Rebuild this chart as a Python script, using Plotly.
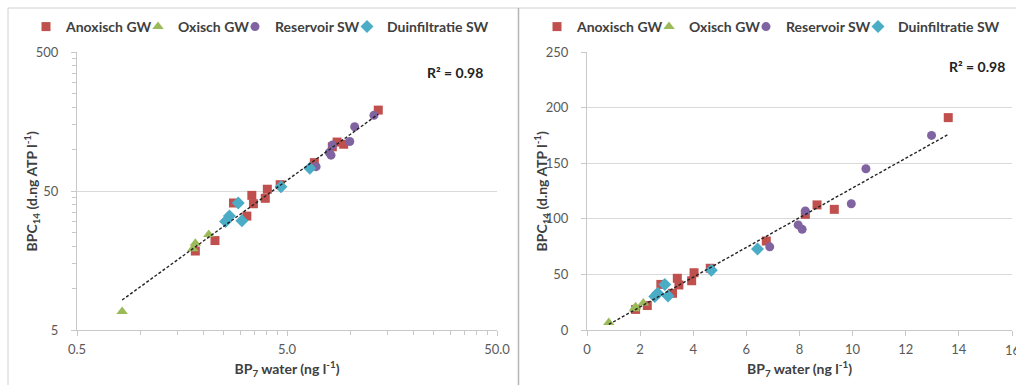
import numpy as np
import plotly.graph_objects as go

# Measured series: BP7 in water (ng/l) vs BPC14 (d.ng ATP/l)
anox_x = [13.6, 8.66, 9.31, 8.22, 6.75, 4.64, 4.03, 3.94, 3.40, 3.46, 2.78, 3.22, 2.27, 1.83]
anox_y = [191, 112.5, 108.5, 104, 80, 55.5, 51.5, 44.3, 46.5, 40.5, 41, 33, 22, 18.5]
oxi_x = [0.82, 1.78, 1.83, 2.12]
oxi_y = [6.8, 19.2, 21, 24.3]
res_x = [12.97, 10.5, 9.95, 8.22, 7.95, 8.1, 6.88]
res_y = [175, 145, 113.5, 107, 94.5, 90.5, 74.8]
duin_x = [6.42, 4.68, 2.93, 3.05, 2.55, 2.66]
duin_y = [72.8, 53.7, 41, 30.5, 30.2, 33]

series_names = ["Anoxisch GW", "Oxisch GW", "Reservoir SW", "Duinfiltratie SW"]
r2_label = "R² = 0.98"

log_xticks = [0.5, 5, 50]
log_xticktext = ["0.5", "5.0", "50.0"]
log_yticks = [5, 50, 500]
lin_xticks = [0, 2, 4, 6, 8, 10, 12, 14, 16]
lin_yticks = [0, 50, 100, 150, 200, 250]

W, H = 1016, 385
def px(x):
    return x / W
def py(y):
    return 1 - y / H

styles = [
    dict(symbol="square", color="#C0504D", size=9),
    dict(symbol="triangle-up", color="#9BBB59", size=10),
    dict(symbol="circle", color="#8064A2", size=9),
    dict(symbol="diamond", color="#4BACC6", size=10),
]
data = [(anox_x, anox_y), (oxi_x, oxi_y), (res_x, res_y), (duin_x, duin_y)]

# left edge of each legend entry's label, per panel
legend_text_left = [59, 171, 268, 380]
panel_offsets = [0, 511]

fig = go.Figure()
legend_layout = {}
leg_font = dict(family="Lato, Open Sans, sans-serif", size=14, color="#404040", weight="bold")

for p, (xa, ya) in enumerate([("x", "y"), ("x2", "y2")]):
    for k, ((xs, ys), name, st) in enumerate(zip(data, series_names, styles)):
        idx = p * 4 + k + 1
        lname = "legend" if idx == 1 else f"legend{idx}"
        fig.add_trace(go.Scatter(
            x=xs, y=ys, mode="markers", name=name,
            marker=dict(symbol=st["symbol"], color=st["color"], size=st["size"], line=dict(width=0)),
            xaxis=xa, yaxis=ya, legend=lname, showlegend=True,
        ))
        legend_layout[lname] = dict(
            orientation="h", x=px(legend_text_left[k] + panel_offsets[p] - 33), y=py(27),
            xanchor="left", yanchor="middle", font=leg_font, bgcolor="rgba(0,0,0,0)",
            itemwidth=30,
        )

# trend lines fitted on all points
all_x = np.array(anox_x + oxi_x + res_x + duin_x, dtype=float)
all_y = np.array(anox_y + oxi_y + res_y + duin_y, dtype=float)
xx = np.linspace(all_x.min(), all_x.max(), 60)

b, a = np.polyfit(np.log10(all_x), np.log10(all_y), 1)
fig.add_trace(go.Scatter(x=xx, y=10 ** a * xx ** b, mode="lines", xaxis="x", yaxis="y",
                         line=dict(color="#222222", width=1.4, dash="3px,2px"),
                         showlegend=False, hoverinfo="skip"))
m, c = np.polyfit(all_x, all_y, 1)
xl = np.array([all_x.min(), all_x.max()])
fig.add_trace(go.Scatter(x=xl, y=m * xl + c, mode="lines", xaxis="x2", yaxis="y2",
                         line=dict(color="#222222", width=1.4, dash="3px,2px"),
                         showlegend=False, hoverinfo="skip"))

tick_font = dict(family="Lato, Open Sans, sans-serif", size=13, color="#595959")
title_font = dict(family="Lato, Open Sans, sans-serif", size=14, color="#404040")
axis_line = "#c8c8c8"
grid = "#d9d9d9"

xtitle = "<b>BP<sub>7</sub> water (ng l<sup>-1</sup>)</b>"
ytitle = "<b>BPC<sub>14</sub> (d.ng ATP l<sup>-1</sup>)</b>"

minor_x_log = [k * 0.5 for k in range(2, 10)] + [k * 5 for k in range(2, 10)]
minor_y_log = [k * 5 for k in range(2, 10)] + [k * 50 for k in range(2, 10)]

common_x = dict(showline=True, linecolor=axis_line, linewidth=1, ticks="outside", ticklen=5,
                tickcolor=axis_line, showgrid=False, zeroline=False, tickfont=tick_font,
                automargin=False, ticklabelstandoff=2,
                title=dict(text=xtitle, font=title_font, standoff=8))
common_y = dict(showline=True, linecolor=axis_line, linewidth=1, ticks="outside", ticklen=5,
                tickcolor=axis_line, showgrid=True, gridcolor=grid, gridwidth=1, zeroline=False,
                tickfont=tick_font, ticklabelstandoff=10, automargin=False)

yd = [py(330), py(52)]
fig.update_layout(
    width=W, height=H,
    margin=dict(l=0, r=0, t=0, b=0),
    paper_bgcolor="white", plot_bgcolor="white",
    xaxis=dict(**common_x, type="log", domain=[px(77), px(497)], anchor="y",
               range=[np.log10(0.5), np.log10(50)], tickmode="array",
               tickvals=log_xticks, ticktext=log_xticktext,
               minor=dict(tickmode="array", tickvals=minor_x_log, ticks="outside",
                          ticklen=4, tickcolor=axis_line)),
    yaxis=dict(**common_y, type="log", domain=yd, anchor="x",
               range=[np.log10(5), np.log10(500)], tickmode="array",
               tickvals=log_yticks, ticktext=[str(v) for v in log_yticks],
               minor=dict(tickmode="array", tickvals=minor_y_log, ticks="outside",
                          ticklen=4, tickcolor=axis_line)),
    xaxis2=dict(**common_x, domain=[px(587), px(1012)], anchor="y2", range=[0, 16],
                tickmode="array", tickvals=lin_xticks),
    yaxis2=dict(**common_y, domain=yd, anchor="x2", range=[0, 250],
                tickmode="array", tickvals=lin_yticks),
    showlegend=True,
    **legend_layout,
)

# last x tick label of the linear panel sits on the page edge and is drawn explicitly
last_tick = lin_xticks[-1]
fig.add_annotation(x=last_tick, xref="x2", y=py(350), yref="paper", text=str(last_tick),
                   showarrow=False, font=tick_font, xanchor="center", yanchor="middle")

# vertical axis titles
for xpos in (31.5, 541.5):
    fig.add_annotation(x=px(xpos), y=py(191), xref="paper", yref="paper", text=ytitle,
                       textangle=-90, showarrow=False, font=title_font,
                       xanchor="center", yanchor="middle")

r2_font = dict(family="Lato, Open Sans, sans-serif", size=14, color="#222222")
fig.add_annotation(x=px(455), y=py(73), xref="paper", yref="paper", text="<b>" + r2_label + "</b>",
                   showarrow=False, font=r2_font, xanchor="center", yanchor="middle")
fig.add_annotation(x=px(977), y=py(67), xref="paper", yref="paper", text="<b>" + r2_label + "</b>",
                   showarrow=False, font=r2_font, xanchor="center", yanchor="middle")

# panel frames
frame = dict(color="#d0d0d0", width=1)
fig.add_shape(type="line", xref="paper", yref="paper", x0=px(8), x1=1, y0=py(8), y1=py(8), line=frame)
fig.add_shape(type="line", xref="paper", yref="paper", x0=px(8), x1=px(8), y0=py(8), y1=0, line=frame)
fig.add_shape(type="line", xref="paper", yref="paper", x0=px(518.5), x1=px(518.5), y0=py(8), y1=0,
              line=dict(color="#b5b5b5", width=1.5))

fig.write_html("out.html")
